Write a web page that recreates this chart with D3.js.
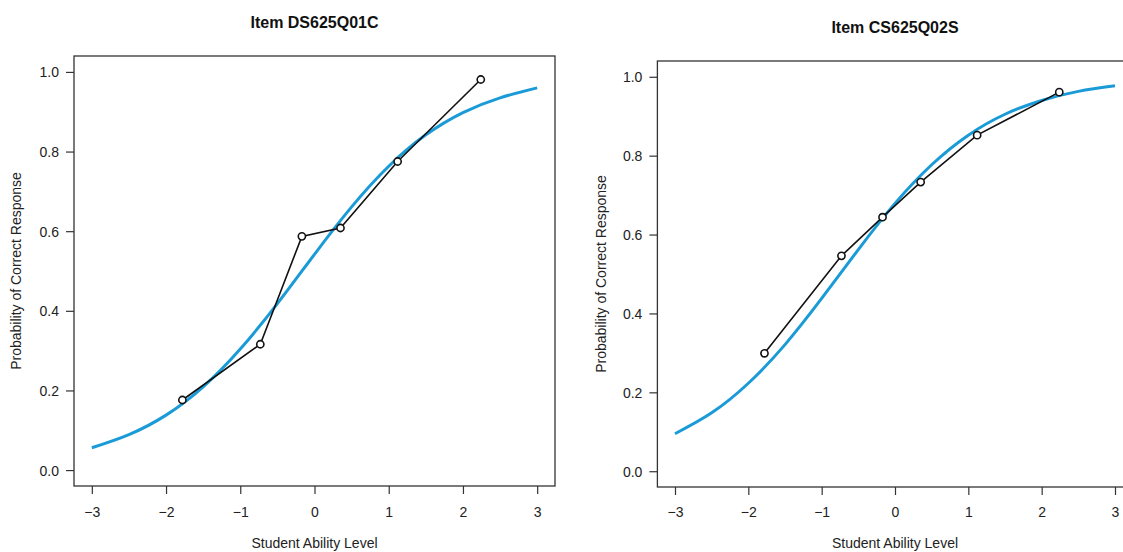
<!DOCTYPE html>
<html>
<head>
<meta charset="utf-8">
<script src="https://cdn.jsdelivr.net/npm/d3@7"></script>
<style>
  html, body { margin: 0; padding: 0; background: #fff; }
  svg { display: block; }
  text { font-family: "Liberation Sans", Arial, Helvetica, sans-serif; fill: #222; }
</style>
</head>
<body>
<svg id="chart" width="1123" height="552"></svg>
<script>
// ---- data ----
const panelTitles = ["Item DS625Q01C", "Item CS625Q02S"];
const xLabel = "Student Ability Level";
const yLabel = "Probability of Correct Response";
const xTicks = [-3, -2, -1, 0, 1, 2, 3];
const yTicks = [0, 0.2, 0.4, 0.6, 0.8, 1.0];

// fitted item characteristic curves
const thetaGrid = [-3, -2.5, -2, -1.5, -1, -0.5, 0, 0.5, 1, 1.5, 2, 2.5, 3];
const curveLeft  = [0.056, 0.089, 0.138, 0.209, 0.304, 0.418, 0.542, 0.661, 0.763, 0.842, 0.898, 0.935, 0.960];
const curveRight = [0.095, 0.148, 0.223, 0.321, 0.438, 0.562, 0.679, 0.777, 0.852, 0.905, 0.940, 0.963, 0.977];

// observed proportions correct per ability group
const abilityLeft   = [-1.78, -0.73, -0.17, 0.35, 1.12, 2.24];
const observedLeft  = [0.176, 0.316, 0.587, 0.608, 0.775, 0.981];
const abilityRight  = [-1.78, -0.73, -0.17, 0.35, 1.12, 2.24];
const observedRight = [0.299, 0.546, 0.644, 0.733, 0.852, 0.961];

// ---- layout ----
const panels = [
  { title: panelTitles[0], box: { l: 74, r: 555, t: 56, b: 486 }, titleY: 28, yLabX: 21, xTickY: 517, xLabY: 548,
    curve: curveLeft, ax: abilityLeft, obs: observedLeft },
  { title: panelTitles[1], box: { l: 657.4, r: 1132.6, t: 61, b: 487 }, titleY: 33, yLabX: 606, xTickY: 517, xLabY: 548,
    curve: curveRight, ax: abilityRight, obs: observedRight }
];

const svg = d3.select("#chart");
const blue = "#1a9bd7";

panels.forEach(p => {
  const g = svg.append("g");
  const x = d3.scaleLinear().domain([-3.24, 3.24]).range([p.box.l, p.box.r]);
  const y = d3.scaleLinear().domain([-0.04, 1.04]).range([p.box.b, p.box.t]);
  const cx = (x(-3) + x(3)) / 2;

  // title
  g.append("text").attr("x", cx).attr("y", p.titleY).attr("text-anchor", "middle")
    .style("font-size", "16px").style("font-weight", "bold").style("fill", "#111").text(p.title);

  // axes
  const xAxis = d3.axisBottom(x).tickValues(xTicks).tickSize(8).tickPadding(4)
    .tickFormat(d3.format("d"));
  const gx = g.append("g").attr("transform", `translate(0,${p.box.b})`).call(xAxis);
  gx.select(".domain").remove();
  gx.selectAll(".tick line").attr("stroke", "#333").attr("stroke-width", 1.2);
  gx.selectAll(".tick text").attr("y", null).attr("dy", null)
    .attr("transform", `translate(0,${p.xTickY - p.box.b})`)
    .style("font-size", "14px").style("fill", "#222");

  const yAxis = d3.axisLeft(y).tickValues(yTicks).tickSize(8).tickPadding(7)
    .tickFormat(d3.format(".1f"));
  const gy = g.append("g").attr("transform", `translate(${p.box.l},0)`).call(yAxis);
  gy.select(".domain").remove();
  gy.selectAll(".tick line").attr("stroke", "#333").attr("stroke-width", 1.2);
  gy.selectAll(".tick text").style("font-size", "14px").style("fill", "#222").attr("dy", "0.36em");

  // axis labels
  g.append("text").attr("x", cx).attr("y", p.xLabY).attr("text-anchor", "middle")
    .style("font-size", "14px").text(xLabel);
  const cy = (y(0) + y(1)) / 2;
  g.append("text").attr("transform", `translate(${p.yLabX},${cy}) rotate(-90)`)
    .attr("text-anchor", "middle").style("font-size", "14px").text(yLabel);

  // fitted curve
  const curvePts = thetaGrid.map((t, i) => [t, p.curve[i]]);
  g.append("path").datum(curvePts)
    .attr("d", d3.line().x(d => x(d[0])).y(d => y(d[1])).curve(d3.curveNatural))
    .attr("fill", "none").attr("stroke", blue).attr("stroke-width", 3).attr("stroke-linecap", "butt");

  // observed line + points
  const obsPts = p.ax.map((a, i) => [a, p.obs[i]]);
  g.append("path").datum(obsPts)
    .attr("d", d3.line().x(d => x(d[0])).y(d => y(d[1])))
    .attr("fill", "none").attr("stroke", "#111").attr("stroke-width", 1.6);
  g.selectAll("circle.obs").data(obsPts).enter().append("circle")
    .attr("class", "obs")
    .attr("cx", d => x(d[0])).attr("cy", d => y(d[1])).attr("r", 3.6)
    .attr("fill", "#fff").attr("stroke", "#111").attr("stroke-width", 1.6);

  // plot box
  g.append("rect").attr("x", p.box.l).attr("y", p.box.t)
    .attr("width", p.box.r - p.box.l).attr("height", p.box.b - p.box.t)
    .attr("fill", "none").attr("stroke", "#333").attr("stroke-width", 1.3);
});
</script>
</body>
</html>
